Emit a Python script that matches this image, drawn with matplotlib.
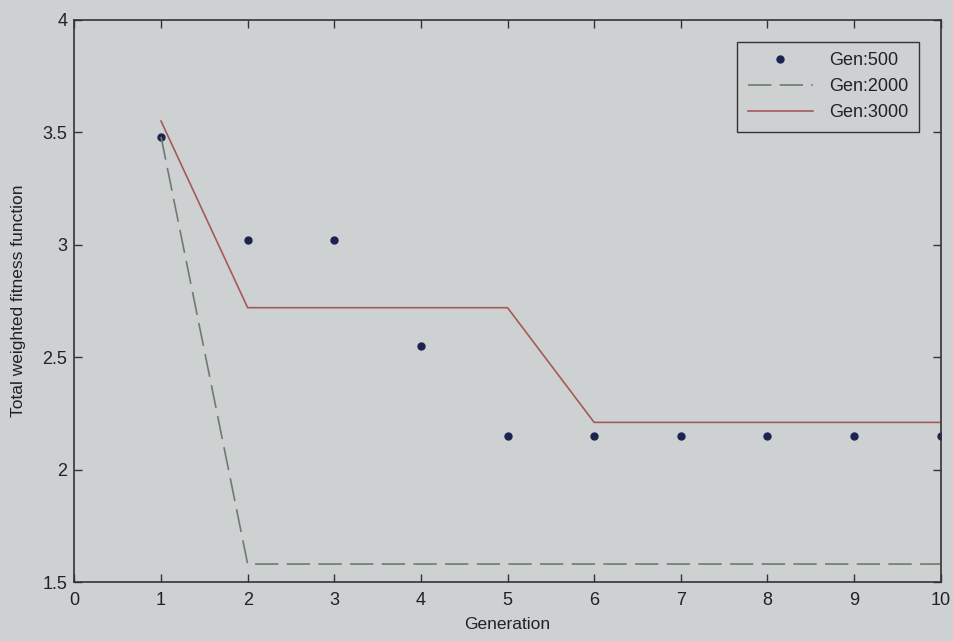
import matplotlib
matplotlib.use("Agg")
import matplotlib.pyplot as plt

plt.rcParams['font.family'] = ['Liberation Sans', 'DejaVu Sans']

# data
generation = [1, 2, 3, 4, 5, 6, 7, 8, 9, 10]
gen500 = [3.48, 3.02, 3.02, 2.55, 2.15, 2.15, 2.15, 2.15, 2.15, 2.15]
gen2000 = [3.48, 1.58, 1.58, 1.58, 1.58, 1.58, 1.58, 1.58, 1.58, 1.58]
gen3000 = [3.55, 2.72, 2.72, 2.72, 2.72, 2.21, 2.21, 2.21, 2.21, 2.21]

bg = '#cdd1d2'
fig = plt.figure(figsize=(9.54, 6.41), dpi=100, facecolor=bg)
ax = fig.add_axes([0.078, 0.092, 0.908, 0.877], facecolor=bg)

ax.plot(generation, gen500, linestyle='none', marker='o', markersize=5,
        color='#1c2350', label='Gen:500')
ax.plot(generation, gen2000, color='#6f7b6e', linewidth=1.2,
        dashes=(14, 5), label='Gen:2000')
ax.plot(generation, gen3000, color='#a65a58', linewidth=1.2,
        label='Gen:3000')

ax.set_xlim(0, 10)
ax.set_ylim(1.5, 4)
ax.set_xticks(range(0, 11))
ax.set_yticks([1.5, 2, 2.5, 3, 3.5, 4])
ax.set_yticklabels(['1.5', '2', '2.5', '3', '3.5', '4'])
ax.tick_params(direction='in', top=True, right=True, labelsize=13,
               length=6, width=1, colors='#333333', labelcolor='#222222')
ax.tick_params(axis='x', pad=7)
ax.tick_params(axis='y', pad=5)
for s in ax.spines.values():
    s.set_color('#333333')
    s.set_linewidth(1.2)

ax.set_xlabel('Generation', fontsize=12.5, color='#222222', labelpad=6)
ax.set_ylabel('Total weighted fitness function', fontsize=12.5,
              color='#222222', labelpad=12)

leg = ax.legend(loc='upper right', fontsize=13, frameon=True, fancybox=False,
                edgecolor='#333333', facecolor=bg, framealpha=1,
                borderaxespad=1.2, handlelength=3.6, labelspacing=0.5,
                borderpad=0.6, handletextpad=0.9)
leg.get_frame().set_linewidth(1.0)
for t in leg.get_texts():
    t.set_color('#222222')

fig.savefig('out.png', dpi=100, facecolor=bg)
